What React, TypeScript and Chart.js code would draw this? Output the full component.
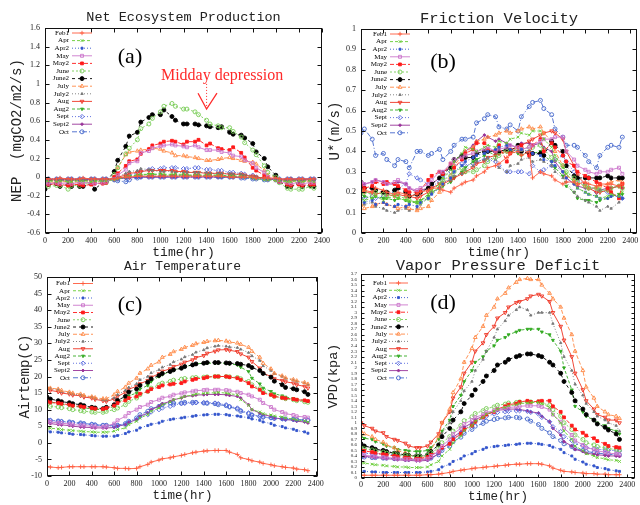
import React, { useEffect, useRef } from 'react';
import { Chart, registerables } from 'chart.js';
import { drawPoint } from 'chart.js/helpers';

Chart.register(...registerables);

// ---------------- data ----------------
const HOURS = [0, 30, 100, 130, 200, 230, 300, 330, 400, 430, 500, 530,
  600, 630, 700, 730, 800, 830, 900, 930, 1000, 1030, 1100, 1130,
  1200, 1230, 1300, 1330, 1400, 1430, 1500, 1530, 1600, 1630, 1700, 1730,
  1800, 1830, 1900, 1930, 2000, 2030, 2100, 2130, 2200, 2230, 2300, 2330];

const SERIES_NAMES = ['Feb1', 'Apr', 'Apr2', 'May', 'May2', 'June', 'June2', 'July', 'July2', 'Aug', 'Aug2', 'Sept', 'Sept2', 'Oct'];

const X_TICKS = [0, 200, 400, 600, 800, 1000, 1200, 1400, 1600, 1800, 2000, 2200, 2400];
const NEP_TICKS = [-0.6, -0.4, -0.2, 0, 0.2, 0.4, 0.6, 0.8, 1, 1.2, 1.4, 1.6];
const UST_TICKS = [0, 0.1, 0.2, 0.3, 0.4, 0.5, 0.6, 0.7, 0.8, 0.9, 1];
const TEMP_TICKS = [-10, -5, 0, 5, 10, 15, 20, 25, 30, 35, 40, 45, 50];
const VPD_TICKS = [0, 0.1, 0.2, 0.3, 0.4, 0.5, 0.6, 0.7, 0.8, 0.9, 1, 1.1, 1.2, 1.3, 1.4, 1.5, 1.6, 1.7, 1.8, 1.9,
  2, 2.1, 2.2, 2.3, 2.4, 2.5, 2.6, 2.7, 2.8, 2.9, 3, 3.1, 3.2, 3.3, 3.4, 3.5, 3.6, 3.7];

// (a) Net Ecosystem Production
const nepFeb1 = [-0.02,-0.02,-0.02,-0.01,-0.02,-0.02,-0.02,-0.01,-0.02,-0.02,-0.02,-0.02,
  -0.02,-0.01,0.0,0.0,0.01,0.01,0.01,0.01,0.01,0.01,0.01,0.01,
  0.01,0.01,0.01,0.01,0.01,0.01,0.01,0.01,0.0,0.0,0.0,0.0,
  0.0,-0.01,-0.01,-0.01,-0.01,-0.02,-0.02,-0.02,-0.02,-0.02,-0.02,-0.02];
const nepApr = [-0.05,-0.04,-0.05,-0.04,-0.05,-0.05,-0.04,-0.04,-0.05,-0.04,-0.04,-0.04,
  -0.03,-0.02,0.0,0.01,0.02,0.03,0.03,0.03,0.03,0.03,0.03,0.03,
  0.03,0.02,0.02,0.02,0.02,0.02,0.02,0.01,0.01,0.01,0.01,0.0,
  -0.01,-0.02,-0.03,-0.03,-0.04,-0.04,-0.05,-0.05,-0.04,-0.05,-0.04,-0.05];
const nepApr2 = [-0.03,-0.03,-0.02,-0.03,-0.03,-0.02,-0.03,-0.03,-0.02,-0.03,-0.03,-0.02,
  -0.02,-0.01,-0.01,0.0,0.0,0.0,0.01,0.01,0.01,0.01,0.01,0.01,
  0.01,0.01,0.01,0.01,0.01,0.01,0.0,0.0,0.0,0.0,0.0,0.0,
  -0.01,-0.01,-0.02,-0.02,-0.02,-0.03,-0.03,-0.02,-0.03,-0.03,-0.02,-0.03];
const nepMay = [-0.06,-0.07,-0.06,-0.07,-0.06,-0.07,-0.06,-0.06,-0.06,-0.07,-0.06,-0.05,
  -0.02,0.02,0.08,0.15,0.17,0.26,0.28,0.31,0.33,0.34,0.35,0.34,
  0.33,0.32,0.34,0.32,0.29,0.29,0.29,0.27,0.26,0.23,0.22,0.18,
  0.15,0.10,0.05,0.0,-0.03,-0.05,-0.06,-0.07,-0.06,-0.07,-0.06,-0.06];
const nepMay2 = [-0.07,-0.08,-0.07,-0.08,-0.09,-0.08,-0.08,-0.09,-0.08,-0.07,-0.07,-0.06,
  0.0,0.04,0.12,0.17,0.19,0.25,0.30,0.34,0.36,0.38,0.39,0.38,
  0.35,0.38,0.38,0.40,0.34,0.36,0.31,0.30,0.29,0.32,0.26,0.21,
  0.10,0.07,0.02,-0.01,-0.03,-0.05,-0.08,-0.09,-0.08,-0.09,-0.08,-0.08];
const nepJune = [-0.09,-0.10,-0.09,-0.09,-0.13,-0.09,-0.09,-0.07,-0.06,-0.05,-0.05,-0.06,
  0.03,0.10,0.25,0.31,0.40,0.52,0.57,0.63,0.70,0.76,0.79,0.76,
  0.73,0.73,0.70,0.67,0.61,0.57,0.55,0.53,0.53,0.49,0.43,0.37,
  0.29,0.24,0.12,0.05,0.0,-0.06,-0.12,-0.13,-0.13,-0.13,-0.10,-0.12];
const nepJune2 = [-0.13,-0.08,-0.07,-0.10,-0.08,-0.10,-0.10,-0.10,-0.07,-0.13,-0.06,-0.05,
  0.06,0.18,0.33,0.44,0.48,0.59,0.64,0.67,0.67,0.72,0.65,0.61,
  0.57,0.57,0.57,0.56,0.55,0.54,0.53,0.54,0.48,0.46,0.45,0.42,
  0.36,0.27,0.20,0.11,0.02,-0.05,-0.10,-0.10,-0.07,-0.10,-0.09,-0.10];
const nepJuly = [-0.05,-0.05,-0.06,-0.05,-0.05,-0.06,-0.05,-0.05,-0.06,-0.05,-0.05,-0.04,
  0.0,0.10,0.24,0.27,0.28,0.29,0.30,0.31,0.30,0.28,0.26,0.23,
  0.23,0.22,0.21,0.20,0.18,0.18,0.19,0.20,0.21,0.20,0.18,0.17,
  0.16,0.14,0.07,0.02,0.0,-0.03,-0.05,-0.05,-0.06,-0.05,-0.05,-0.05];
const nepJuly2 = [-0.04,-0.04,-0.04,-0.04,-0.04,-0.04,-0.04,-0.04,-0.04,-0.04,-0.04,-0.03,
  -0.02,0.0,0.04,0.06,0.07,0.09,0.08,0.07,0.06,0.06,0.06,0.05,
  0.05,0.05,0.05,0.05,0.05,0.04,0.04,0.04,0.04,0.03,0.03,0.02,
  0.01,0.0,-0.01,-0.02,-0.03,-0.04,-0.04,-0.04,-0.04,-0.04,-0.04,-0.04];
const nepAug = [-0.03,-0.03,-0.03,-0.03,-0.03,-0.03,-0.03,-0.03,-0.03,-0.03,-0.03,-0.03,
  -0.02,0.0,0.02,0.04,0.05,0.06,0.07,0.07,0.07,0.07,0.07,0.06,
  0.06,0.05,0.05,0.05,0.04,0.04,0.04,0.04,0.03,0.03,0.03,0.02,
  0.01,0.0,-0.01,-0.02,-0.02,-0.03,-0.03,-0.03,-0.03,-0.03,-0.03,-0.03];
const nepAug2 = [-0.03,-0.04,-0.03,-0.04,-0.03,-0.04,-0.03,-0.04,-0.03,-0.04,-0.03,-0.03,
  -0.02,-0.01,0.0,0.01,0.02,0.02,0.03,0.03,0.03,0.02,0.02,0.02,
  0.02,0.02,0.02,0.02,0.02,0.02,0.02,0.02,0.01,0.01,0.01,0.01,
  0.0,0.0,-0.01,-0.02,-0.03,-0.03,-0.04,-0.03,-0.04,-0.03,-0.04,-0.03];
const nepSept = [-0.03,-0.03,-0.03,-0.03,-0.03,-0.03,-0.03,-0.03,-0.03,-0.03,-0.03,-0.03,
  -0.03,-0.02,0.0,0.02,0.04,0.06,0.08,0.09,0.09,0.10,0.10,0.10,
  0.09,0.09,0.10,0.10,0.08,0.08,0.07,0.07,0.05,0.05,0.04,0.03,
  0.02,0.0,-0.01,-0.02,-0.03,-0.03,-0.03,-0.03,-0.03,-0.03,-0.03,-0.03];
const nepSept2 = [-0.02,-0.02,-0.02,-0.02,-0.02,-0.02,-0.02,-0.02,-0.02,-0.02,-0.02,-0.02,
  -0.02,-0.02,-0.01,-0.01,0.0,0.0,0.0,0.0,0.0,0.0,0.0,0.0,
  0.0,0.0,0.0,0.0,0.0,0.0,0.0,0.0,0.0,0.0,0.0,0.0,
  -0.01,-0.01,-0.01,-0.02,-0.02,-0.02,-0.02,-0.02,-0.02,-0.02,-0.02,-0.02];
const nepOct = [-0.02,-0.02,-0.02,-0.02,-0.02,-0.02,-0.02,-0.02,-0.02,-0.02,-0.02,-0.02,
  -0.03,-0.04,-0.05,-0.03,-0.01,0.0,0.0,0.0,0.0,0.0,0.0,0.0,
  0.0,0.0,0.0,0.0,0.0,0.0,0.0,0.0,0.0,0.0,-0.01,-0.01,
  -0.02,-0.02,-0.03,-0.03,-0.03,-0.02,-0.02,-0.02,-0.02,-0.02,-0.02,-0.02];

// (b) Friction velocity
const ustFeb1 = [0.20,0.21,0.20,0.22,0.21,0.20,0.19,0.20,0.19,0.18,0.19,0.20,
  0.21,0.22,0.22,0.21,0.20,0.22,0.24,0.25,0.26,0.28,0.30,0.32,
  0.33,0.34,0.37,0.39,0.40,0.38,0.40,0.27,0.30,0.29,0.28,0.26,
  0.24,0.25,0.25,0.24,0.25,0.24,0.23,0.24,0.24,0.24,0.23,0.24];
const ustApr = [0.17,0.16,0.17,0.18,0.16,0.17,0.18,0.17,0.16,0.16,0.15,0.16,
  0.19,0.21,0.24,0.27,0.31,0.35,0.39,0.42,0.41,0.40,0.42,0.43,
  0.42,0.45,0.44,0.46,0.47,0.49,0.48,0.50,0.50,0.46,0.42,0.38,
  0.32,0.29,0.25,0.22,0.20,0.19,0.18,0.17,0.18,0.19,0.18,0.20];
const ustApr2 = [0.16,0.15,0.16,0.14,0.15,0.14,0.13,0.14,0.13,0.14,0.13,0.15,
  0.17,0.19,0.22,0.24,0.27,0.30,0.33,0.35,0.37,0.38,0.39,0.40,
  0.41,0.42,0.43,0.41,0.40,0.41,0.40,0.39,0.38,0.36,0.35,0.33,
  0.30,0.27,0.24,0.22,0.20,0.19,0.18,0.17,0.17,0.18,0.18,0.17];
const ustMay = [0.25,0.24,0.25,0.26,0.25,0.24,0.25,0.26,0.24,0.22,0.21,0.22,
  0.24,0.26,0.30,0.30,0.34,0.36,0.37,0.38,0.39,0.40,0.41,0.42,
  0.40,0.41,0.42,0.43,0.42,0.41,0.42,0.43,0.45,0.46,0.46,0.47,
  0.47,0.40,0.36,0.33,0.31,0.30,0.29,0.30,0.30,0.31,0.32,0.29];
const ustMay2 = [0.24,0.22,0.23,0.25,0.24,0.25,0.24,0.23,0.21,0.20,0.20,0.21,
  0.26,0.28,0.30,0.29,0.34,0.32,0.36,0.39,0.41,0.44,0.44,0.41,
  0.40,0.43,0.35,0.39,0.42,0.43,0.38,0.43,0.46,0.40,0.44,0.42,
  0.38,0.35,0.33,0.30,0.28,0.27,0.25,0.24,0.22,0.20,0.17,0.24];
const ustJune = [0.21,0.20,0.19,0.20,0.19,0.18,0.19,0.18,0.17,0.16,0.15,0.15,
  0.17,0.20,0.22,0.26,0.28,0.30,0.32,0.30,0.30,0.31,0.33,0.35,
  0.37,0.38,0.40,0.40,0.41,0.41,0.42,0.42,0.43,0.41,0.37,0.36,
  0.33,0.30,0.27,0.25,0.23,0.22,0.22,0.21,0.21,0.22,0.23,0.22];
const ustJune2 = [0.25,0.22,0.22,0.21,0.20,0.20,0.21,0.22,0.20,0.18,0.19,0.20,
  0.22,0.24,0.27,0.29,0.32,0.36,0.38,0.37,0.37,0.39,0.40,0.40,
  0.40,0.40,0.41,0.40,0.43,0.40,0.39,0.39,0.39,0.38,0.45,0.43,
  0.40,0.33,0.28,0.27,0.27,0.27,0.27,0.27,0.28,0.27,0.27,0.27];
const ustJuly = [0.14,0.12,0.13,0.14,0.15,0.14,0.13,0.12,0.13,0.12,0.11,0.12,
  0.13,0.16,0.20,0.24,0.28,0.33,0.38,0.40,0.42,0.45,0.46,0.47,
  0.48,0.49,0.50,0.49,0.50,0.51,0.52,0.51,0.52,0.49,0.45,0.40,
  0.33,0.28,0.26,0.24,0.23,0.22,0.22,0.23,0.24,0.25,0.26,0.25];
const ustJuly2 = [0.15,0.14,0.15,0.13,0.12,0.11,0.10,0.11,0.12,0.11,0.12,0.14,
  0.17,0.20,0.22,0.25,0.26,0.28,0.29,0.31,0.33,0.35,0.36,0.37,
  0.36,0.32,0.30,0.33,0.34,0.36,0.37,0.35,0.36,0.35,0.33,0.30,
  0.27,0.25,0.20,0.18,0.16,0.15,0.13,0.11,0.13,0.12,0.15,0.17];
const ustAug = [0.21,0.20,0.20,0.19,0.20,0.19,0.18,0.19,0.18,0.18,0.17,0.18,
  0.20,0.22,0.24,0.24,0.26,0.27,0.29,0.30,0.32,0.34,0.35,0.37,
  0.38,0.39,0.40,0.41,0.42,0.43,0.45,0.46,0.48,0.49,0.50,0.49,
  0.46,0.40,0.33,0.28,0.24,0.22,0.20,0.20,0.21,0.22,0.23,0.22];
const ustAug2 = [0.19,0.18,0.17,0.18,0.17,0.17,0.16,0.17,0.16,0.15,0.15,0.16,
  0.18,0.20,0.22,0.23,0.25,0.27,0.30,0.32,0.35,0.36,0.38,0.40,
  0.38,0.39,0.41,0.40,0.39,0.38,0.40,0.39,0.40,0.38,0.35,0.32,
  0.28,0.23,0.20,0.17,0.16,0.16,0.15,0.16,0.17,0.18,0.19,0.19];
const ustSept = [0.17,0.17,0.18,0.17,0.18,0.19,0.20,0.22,0.24,0.29,0.27,0.26,
  0.24,0.23,0.25,0.27,0.30,0.33,0.34,0.33,0.34,0.35,0.36,0.36,
  0.35,0.33,0.30,0.30,0.30,0.30,0.29,0.33,0.30,0.31,0.33,0.36,
  0.38,0.35,0.30,0.26,0.24,0.22,0.20,0.21,0.20,0.19,0.18,0.17];
const ustSept2 = [0.23,0.24,0.25,0.26,0.25,0.24,0.24,0.25,0.24,0.22,0.20,0.21,
  0.22,0.24,0.27,0.30,0.32,0.35,0.38,0.40,0.43,0.45,0.48,0.47,
  0.45,0.46,0.44,0.43,0.42,0.44,0.44,0.43,0.44,0.42,0.40,0.35,
  0.30,0.27,0.24,0.23,0.22,0.22,0.22,0.21,0.22,0.22,0.23,0.22];
const ustOct = [0.49,0.51,0.46,0.38,0.39,0.36,0.33,0.36,0.35,0.32,0.40,0.40,
  0.38,0.39,0.41,0.36,0.40,0.43,0.46,0.46,0.47,0.54,0.56,0.58,
  0.57,0.52,0.51,0.53,0.50,0.57,0.62,0.64,0.65,0.61,0.58,0.51,
  0.47,0.43,0.43,0.42,0.38,0.35,0.32,0.38,0.42,0.43,0.42,0.47];

// (c) Air temperature
const tFeb1 = [-7.2,-7.3,-7.5,-7.4,-7.2,-7.2,-7.2,-7.2,-7.2,-7.2,-7.2,-7.3,
  -7.5,-7.7,-7.7,-7.8,-7.7,-7.2,-6.5,-5.8,-5.2,-4.8,-4.5,-4.2,
  -3.8,-3.5,-3.0,-2.8,-2.5,-2.4,-2.3,-2.3,-2.3,-2.8,-3.5,-4.5,
  -5.0,-5.4,-5.8,-6.2,-6.6,-6.9,-7.2,-7.4,-7.6,-7.9,-8.1,-8.4];
const tApr = [4.5,4.4,4.2,4.0,3.8,3.7,3.5,3.4,3.3,3.2,3.2,3.2,
  3.5,4.0,4.5,5.5,6.5,7.5,8.5,9.5,10.5,11.5,12.3,13.0,
  13.6,14.0,14.4,14.7,14.9,15.0,15.1,15.2,15.0,14.8,14.5,13.0,
  11.3,10.0,9.3,8.8,8.4,8.1,7.8,7.5,7.2,6.9,6.6,6.3];
const tApr2 = [3.5,3.3,3.2,3.0,2.8,2.6,2.5,2.4,2.2,2.1,2.0,2.0,
  2.0,2.2,2.8,3.3,3.8,4.5,5.2,5.6,6.0,6.5,7.0,7.2,
  7.5,7.7,8.0,8.2,8.4,8.5,8.6,8.6,8.5,8.3,8.1,7.9,
  7.6,7.2,6.8,6.3,5.8,5.3,4.9,4.5,4.1,3.7,3.3,2.9];
const tMay = [6.5,6.3,6.0,5.9,5.7,5.5,5.3,5.2,5.0,4.9,4.8,5.0,
  5.8,6.8,8.0,9.0,10.0,10.8,11.5,12.3,13.0,13.6,14.0,14.5,
  14.9,15.2,15.5,15.7,15.9,16.0,16.0,16.0,15.9,15.7,15.4,15.0,
  14.5,14.0,13.0,12.0,10.8,10.0,9.3,8.8,8.4,8.0,7.8,7.6];
const tMay2 = [12.5,12.2,12.0,11.8,11.5,11.2,11.0,10.8,10.5,10.3,10.2,10.5,
  11.2,12.0,12.8,13.5,14.0,14.8,15.5,16.2,16.8,17.3,17.6,17.8,
  18.0,18.5,19.0,19.3,19.5,19.8,20.0,20.0,20.0,19.8,19.5,19.0,
  18.0,17.0,16.0,15.0,14.5,14.0,13.6,13.4,13.2,13.0,12.8,12.6];
const tJune = [11.5,11.0,10.8,10.6,10.3,10.0,9.7,9.5,9.3,9.2,9.2,9.5,
  10.0,10.5,11.5,12.5,13.5,14.5,15.5,16.5,17.5,18.0,18.5,18.9,
  19.2,19.4,19.6,19.7,19.8,19.9,20.0,20.0,20.0,19.9,19.7,19.3,
  18.5,17.5,16.3,15.3,14.6,14.0,13.6,13.3,13.0,12.7,12.4,12.2];
const tJune2 = [13.8,13.2,12.7,12.4,12.1,11.8,11.5,11.2,10.7,10.5,10.3,10.7,
  11.5,12.8,14.0,15.3,16.2,17.3,18.3,19.3,20.3,20.9,21.5,22.0,
  22.5,23.0,23.5,23.8,24.0,24.2,24.2,24.2,24.1,24.0,23.9,23.7,
  23.3,22.7,21.8,20.9,19.8,18.6,17.5,16.7,16.3,16.0,15.4,14.6];
const tJuly = [16.8,16.5,16.2,15.8,15.3,15.0,14.7,14.3,13.9,13.6,13.3,13.3,
  14.5,15.5,16.8,18.0,19.5,21.0,22.3,23.4,24.4,25.8,26.7,27.5,
  28.2,28.8,29.4,29.9,30.3,30.6,30.8,30.9,30.7,30.4,30.1,29.7,
  28.8,27.6,25.8,24.0,22.3,21.0,20.2,19.6,19.1,18.7,18.2,17.7];
const tJuly2 = [16.8,16.4,16.0,15.5,15.0,14.7,14.4,14.1,13.8,13.4,13.0,12.9,
  13.5,14.5,15.8,16.7,17.8,19.0,20.0,21.1,22.0,22.8,23.6,24.4,
  25.2,25.9,26.6,27.3,28.0,28.6,29.1,29.3,29.1,28.9,28.7,28.2,
  27.2,26.2,24.8,23.2,21.8,20.8,20.0,19.4,18.9,18.5,18.0,17.5];
const tAug = [16.2,15.8,15.4,15.0,14.7,14.4,14.2,13.8,13.5,13.1,12.7,12.5,
  13.2,14.0,15.2,16.2,17.0,17.8,18.8,19.8,20.8,21.6,22.3,23.0,
  23.7,24.3,25.0,25.7,26.3,27.0,27.6,28.0,28.1,27.9,27.5,26.8,
  25.8,24.5,22.5,21.0,20.0,19.3,18.8,18.4,18.0,17.5,17.0,16.5];
const tAug2 = [12.5,12.2,11.9,11.6,11.3,11.0,10.8,10.5,10.3,10.1,10.0,10.3,
  11.0,12.2,13.2,14.2,15.0,16.2,17.3,18.5,20.0,20.6,21.5,22.0,
  22.5,23.0,23.5,23.8,24.0,24.0,24.0,24.0,24.0,23.8,23.5,22.8,
  21.5,19.5,17.8,16.5,15.5,14.8,14.2,13.8,13.4,13.1,12.8,12.5];
const tSept = [7.0,6.8,6.5,6.4,6.2,6.0,5.8,5.7,5.5,5.4,5.2,5.1,
  5.0,5.1,5.5,6.2,7.0,7.8,8.5,9.3,10.0,10.5,11.0,11.4,
  11.8,11.9,12.0,12.1,12.1,12.1,12.0,11.8,11.5,11.0,10.5,9.8,
  9.0,8.5,8.0,7.7,7.5,7.3,7.2,7.1,7.0,6.9,6.8,6.8];
const tSept2 = [6.0,5.8,5.5,5.4,5.2,5.0,4.8,4.7,4.6,4.5,4.5,4.5,
  4.6,5.0,5.5,6.2,7.0,8.0,9.0,10.0,11.0,11.8,12.5,13.0,
  13.5,14.0,14.2,14.4,14.5,14.6,14.6,14.6,14.5,14.3,14.0,13.5,
  11.5,10.0,9.0,8.5,8.0,7.5,7.2,7.0,6.8,6.5,6.3,6.0];
const tOct = [6.8,6.7,6.6,6.4,6.3,6.1,6.0,5.8,5.6,5.4,5.3,5.3,
  5.2,5.3,5.8,6.5,7.5,8.5,9.5,10.3,11.0,11.5,12.0,12.0,
  12.0,12.2,12.2,12.2,12.0,11.9,11.8,11.5,11.2,10.8,10.2,9.5,
  8.8,8.3,8.0,7.8,7.6,7.4,7.3,7.2,7.1,7.0,6.9,6.9];

// (d) Vapor pressure deficit
const vFeb1 = [0.05,0.05,0.05,0.05,0.05,0.05,0.05,0.05,0.05,0.05,0.05,0.05,
  0.06,0.06,0.07,0.08,0.10,0.12,0.14,0.15,0.17,0.18,0.19,0.20,
  0.21,0.22,0.23,0.24,0.25,0.25,0.26,0.26,0.26,0.25,0.22,0.18,
  0.14,0.12,0.11,0.10,0.09,0.08,0.08,0.07,0.07,0.06,0.06,0.06];
const vApr = [0.28,0.27,0.25,0.24,0.23,0.22,0.21,0.20,0.20,0.19,0.19,0.19,
  0.20,0.24,0.30,0.40,0.52,0.64,0.76,0.86,0.95,1.03,1.10,1.16,
  1.21,1.25,1.28,1.31,1.33,1.35,1.36,1.37,1.37,1.35,1.28,1.15,
  1.00,0.85,0.70,0.58,0.50,0.44,0.40,0.37,0.35,0.33,0.32,0.30];
const vApr2 = [0.12,0.12,0.11,0.11,0.10,0.10,0.10,0.10,0.10,0.10,0.10,0.10,
  0.11,0.12,0.15,0.20,0.25,0.30,0.35,0.40,0.44,0.48,0.52,0.55,
  0.57,0.58,0.59,0.60,0.61,0.62,0.63,0.63,0.62,0.61,0.59,0.56,
  0.52,0.46,0.40,0.34,0.29,0.25,0.22,0.19,0.17,0.15,0.13,0.12];
const vMay = [0.42,0.41,0.40,0.39,0.38,0.37,0.36,0.35,0.34,0.34,0.33,0.33,
  0.35,0.40,0.48,0.58,0.70,0.80,0.90,0.98,1.05,1.10,1.15,1.19,
  1.22,1.25,1.27,1.28,1.29,1.30,1.31,1.31,1.31,1.29,1.24,1.15,
  1.02,0.90,0.78,0.68,0.60,0.55,0.52,0.49,0.47,0.45,0.44,0.43];
const vMay2 = [0.50,0.49,0.47,0.45,0.43,0.42,0.40,0.39,0.37,0.36,0.35,0.35,
  0.38,0.42,0.48,0.55,0.62,0.70,0.80,0.88,0.95,1.02,1.10,1.15,
  1.20,1.25,1.30,1.33,1.35,1.38,1.40,1.38,1.39,1.40,1.40,1.30,
  1.20,1.10,0.95,0.88,0.82,0.77,0.72,0.67,0.62,0.58,0.56,0.55];
const vJune = [0.55,0.53,0.51,0.49,0.47,0.45,0.44,0.42,0.41,0.40,0.39,0.39,
  0.41,0.46,0.54,0.64,0.75,0.85,0.95,1.04,1.11,1.17,1.22,1.26,
  1.29,1.32,1.34,1.36,1.37,1.38,1.38,1.38,1.38,1.36,1.32,1.24,
  1.12,1.00,0.88,0.78,0.70,0.64,0.60,0.57,0.55,0.53,0.52,0.51];
const vJune2 = [0.62,0.58,0.55,0.52,0.50,0.48,0.45,0.44,0.42,0.41,0.40,0.40,
  0.42,0.48,0.60,0.75,0.90,1.05,1.20,1.35,1.50,1.60,1.75,1.85,
  1.95,2.05,2.10,2.15,2.20,2.22,2.25,2.25,2.22,2.20,2.10,2.05,
  1.90,1.75,1.55,1.40,1.25,1.15,1.05,0.98,0.92,0.87,0.80,0.70];
const vJuly = [0.85,0.80,0.75,0.70,0.65,0.60,0.55,0.50,0.45,0.42,0.38,0.38,
  0.38,0.50,0.75,1.00,1.25,1.55,1.80,2.10,2.35,2.55,2.75,2.95,
  3.10,3.25,3.35,3.45,3.55,3.60,3.62,3.60,3.60,3.50,3.35,3.25,
  3.10,2.90,2.60,2.30,1.95,1.65,1.45,1.30,1.20,1.15,1.12,1.08];
const vJuly2 = [0.60,0.58,0.55,0.52,0.50,0.48,0.46,0.44,0.42,0.41,0.40,0.40,
  0.42,0.48,0.60,0.80,1.00,1.20,1.40,1.58,1.75,1.95,2.15,2.30,
  2.55,2.70,2.85,2.95,3.05,3.10,3.05,2.95,3.00,3.00,3.00,2.80,
  2.45,2.20,1.95,1.70,1.50,1.35,1.20,1.12,1.05,1.00,0.95,0.85];
const vAug = [1.00,0.95,0.90,0.85,0.82,0.75,0.70,0.68,0.63,0.58,0.55,0.55,
  0.58,0.65,0.80,1.00,1.20,1.45,1.65,1.90,2.10,2.30,2.45,2.60,
  2.75,2.90,3.00,3.10,3.18,3.20,3.25,3.30,3.33,3.30,3.20,3.00,
  2.75,2.50,2.20,1.90,1.60,1.40,1.25,1.15,1.10,1.05,1.05,1.00];
const vAug2 = [0.75,0.72,0.70,0.66,0.62,0.58,0.55,0.52,0.50,0.49,0.48,0.48,
  0.50,0.55,0.70,0.85,1.05,1.30,1.50,1.75,1.95,2.10,2.20,2.30,
  2.40,2.50,2.55,2.60,2.65,2.68,2.70,2.70,2.70,2.65,2.60,2.50,
  2.30,2.00,1.60,1.30,1.20,1.12,1.05,1.00,0.95,0.90,0.85,0.80];
const vSept = [0.45,0.45,0.44,0.44,0.43,0.43,0.42,0.42,0.41,0.41,0.40,0.40,
  0.40,0.42,0.46,0.54,0.63,0.72,0.81,0.89,0.96,1.02,1.08,1.12,
  1.16,1.19,1.20,1.21,1.22,1.22,1.21,1.19,1.16,1.10,1.02,0.93,
  0.84,0.75,0.68,0.62,0.58,0.55,0.53,0.52,0.51,0.50,0.50,0.49];
const vSept2 = [0.40,0.39,0.38,0.37,0.36,0.35,0.34,0.33,0.32,0.32,0.31,0.31,
  0.32,0.36,0.44,0.54,0.64,0.74,0.84,0.92,1.00,1.06,1.12,1.16,
  1.20,1.23,1.24,1.25,1.25,1.24,1.22,1.20,1.18,1.12,1.02,0.90,
  0.78,0.66,0.58,0.52,0.48,0.45,0.43,0.42,0.41,0.40,0.40,0.39];
const vOct = [0.38,0.38,0.37,0.37,0.36,0.36,0.35,0.35,0.34,0.34,0.34,0.34,
  0.34,0.36,0.42,0.50,0.58,0.66,0.74,0.81,0.88,0.94,0.99,1.03,
  1.06,1.08,1.09,1.10,1.10,1.09,1.07,1.03,0.97,0.90,0.82,0.75,
  0.68,0.62,0.57,0.53,0.50,0.48,0.46,0.45,0.44,0.43,0.42,0.42];

const NEP = [nepFeb1, nepApr, nepApr2, nepMay, nepMay2, nepJune, nepJune2, nepJuly, nepJuly2, nepAug, nepAug2, nepSept, nepSept2, nepOct];
const UST = [ustFeb1, ustApr, ustApr2, ustMay, ustMay2, ustJune, ustJune2, ustJuly, ustJuly2, ustAug, ustAug2, ustSept, ustSept2, ustOct];
const TEMP = [tFeb1, tApr, tApr2, tMay, tMay2, tJune, tJune2, tJuly, tJuly2, tAug, tAug2, tSept, tSept2, tOct];
const VPD = [vFeb1, vApr, vApr2, vMay, vMay2, vJune, vJune2, vJuly, vJuly2, vAug, vAug2, vSept, vSept2, vOct];

// ---------------- styles ----------------
const MONO = '"Liberation Mono", "DejaVu Sans Mono", monospace';
const SERIF = '"Liberation Serif", "DejaVu Serif", serif';

const STYLES: any[] = [
  { color: '#ff5a3c', dash: [], ps: 'cross', r: 2.2, fill: false, rot: 0 },
  { color: '#66cc33', dash: [3, 2], ps: 'crossRot', r: 2.0, fill: false, rot: 0 },
  { color: '#3355cc', dash: [1, 2], ps: 'rect', r: 1.4, fill: true, rot: 0 },
  { color: '#cc77cc', dash: [], ps: 'rect', r: 2.1, fill: false, rot: 0 },
  { color: '#ff1a1a', dash: [4, 2], ps: 'rect', r: 2.0, fill: true, rot: 0 },
  { color: '#77cc55', dash: [2, 2], ps: 'circle', r: 2.0, fill: false, rot: 0 },
  { color: '#000000', dash: [3, 3], ps: 'circle', r: 2.0, fill: true, rot: 0 },
  { color: '#ff8844', dash: [4, 2], ps: 'triangle', r: 2.2, fill: false, rot: 0 },
  { color: '#777777', dash: [1, 2], ps: 'triangle', r: 1.4, fill: true, rot: 0 },
  { color: '#ee3322', dash: [], ps: 'triangle', r: 2.2, fill: false, rot: 180 },
  { color: '#33aa22', dash: [3, 2], ps: 'triangle', r: 1.7, fill: true, rot: 180 },
  { color: '#5566dd', dash: [1, 2], ps: 'rectRot', r: 2.2, fill: false, rot: 0 },
  { color: '#993399', dash: [], ps: 'rectRot', r: 1.5, fill: true, rot: 0 },
  { color: '#4466cc', dash: [5, 2, 1, 2], ps: 'circle', r: 2.0, fill: false, rot: 0 },
];

const PANELS: any[] = [
  {
    key: 'a', values: NEP, title: 'Net Ecosystem Production', titleSize: 13.5, titleY: 17,
    yTitle: 'NEP  (mgCO2/m2/s)', yTitleSize: 14, yTitlePad: 8.6, xTitleSize: 13, xTitlePad: 2.2,
    plot: { l: 45, r: 322, t: 28, b: 233 }, yW: 45, xH: 30,
    ymin: -0.6, ymax: 1.6, yTicks: NEP_TICKS, xmax: 2400, yTickPad: 5, xTickPad: 3, yTickFont: 8, tickLen: 4,
    legend: { right: 69, x0: 72, x1: 92, top: 33, step: 7.6 }, label: { text: '(a)', x: 130, y: 57 }, note: true,
  },
  {
    key: 'b', values: UST, title: 'Friction Velocity', titleSize: 15.5, titleY: 19,
    yTitle: 'U*(m/s)', yTitleSize: 14, yTitlePad: 6.6, xTitleSize: 13, xTitlePad: 2.2,
    plot: { l: 361, r: 637, t: 29, b: 233 }, yW: 41, xH: 30,
    ymin: 0, ymax: 1, yTicks: UST_TICKS, xmax: 2460, yTickPad: 5, xTickPad: 3, yTickFont: 8, tickLen: 4,
    legend: { right: 387, x0: 390, x1: 410, top: 34, step: 7.6 }, label: { text: '(b)', x: 443, y: 62 },
  },
  {
    key: 'c', values: TEMP, title: 'Air Temperature', titleSize: 13, titleY: 267,
    yTitle: 'Airtemp(C)', yTitleSize: 14, yTitlePad: 16.6, xTitleSize: 12.5, xTitlePad: 0.5,
    plot: { l: 47, r: 318, t: 277, b: 476 }, yW: 47, xH: 28,
    ymin: -10, ymax: 50, yTicks: TEMP_TICKS, xmax: 2420, yTickPad: 5, xTickPad: 3, yTickFont: 8, tickLen: 4,
    legend: { right: 70, x0: 73, x1: 93, top: 283.5, step: 7.25 }, label: { text: '(c)', x: 130, y: 305 },
  },
  {
    key: 'd', values: VPD, title: 'Vapor Pressure Deficit', titleSize: 15.5, titleY: 266,
    yTitle: 'VPD(kpa)', yTitleSize: 13.5, yTitlePad: 4.9, xTitleSize: 12.5, xTitlePad: 0,
    plot: { l: 361, r: 635, t: 274, b: 478 }, yW: 41, xH: 26,
    ymin: 0, ymax: 3.7, yTicks: VPD_TICKS, xmax: 2470, yTickPad: 4, xTickPad: 2, yTickFont: 5, tickLen: 3,
    legend: { right: 387, x0: 389, x1: 408, top: 283, step: 7.3 }, label: { text: '(d)', x: 443, y: 303 },
  },
];

const fmt = (v: number) => String(Math.round(v * 10) / 10);

function buildDatasets(values: number[][]) {
  return SERIES_NAMES.map((name, i) => {
    const st = STYLES[i];
    const bg = st.fill ? st.color : 'rgba(0,0,0,0)';
    return {
      label: name,
      data: HOURS.map((h, j) => ({ x: h, y: values[i][j] })),
      borderColor: st.color,
      backgroundColor: bg,
      borderWidth: 0.9,
      borderDash: st.dash,
      pointStyle: st.ps,
      pointRadius: st.r,
      pointHoverRadius: st.r,
      pointRotation: st.rot,
      pointBorderWidth: 0.9,
      pointBackgroundColor: bg,
      pointBorderColor: st.color,
      tension: 0,
      fill: false,
    };
  });
}

function decoPlugin(cfg: any) {
  return {
    id: 'deco_' + cfg.key,
    afterDraw(chart: any) {
      const { ctx, chartArea: a } = chart;
      const xs = chart.scales.x;
      const ys = chart.scales.y;
      ctx.save();
      ctx.setLineDash([]);
      ctx.strokeStyle = '#111';
      ctx.lineWidth = 1;
      const L = Math.round(a.left) + 0.5, R = Math.round(a.right) - 0.5;
      const T = Math.round(a.top) + 0.5, B = Math.round(a.bottom) - 0.5;
      ctx.strokeRect(L, T, R - L, B - T);
      ctx.beginPath();
      xs.ticks.forEach((t: any) => {
        const p = Math.round(xs.getPixelForValue(t.value)) + 0.5;
        ctx.moveTo(p, B); ctx.lineTo(p, B - cfg.tickLen);
        ctx.moveTo(p, T); ctx.lineTo(p, T + cfg.tickLen);
      });
      ys.ticks.forEach((t: any) => {
        const p = Math.round(ys.getPixelForValue(t.value)) + 0.5;
        ctx.moveTo(L, p); ctx.lineTo(L + cfg.tickLen, p);
        ctx.moveTo(R, p); ctx.lineTo(R - cfg.tickLen, p);
      });
      ctx.stroke();

      // panel title
      ctx.fillStyle = '#222';
      ctx.font = `${cfg.titleSize}px ${MONO}`;
      ctx.textAlign = 'center';
      ctx.textBaseline = 'middle';
      ctx.fillText(cfg.title, (a.left + a.right) / 2, cfg.titleY);

      // panel label
      ctx.fillStyle = '#000';
      ctx.font = `22px ${SERIF}`;
      ctx.fillText(cfg.label.text, cfg.label.x, cfg.label.y);

      // legend (gnuplot style, inside plot)
      const lg = cfg.legend;
      chart.data.datasets.forEach((ds: any, i: number) => {
        const st = STYLES[i];
        const y = lg.top + i * lg.step;
        ctx.fillStyle = '#000';
        ctx.font = `7px ${SERIF}`;
        ctx.textAlign = 'right';
        ctx.textBaseline = 'middle';
        ctx.fillText(ds.label, lg.right, y);
        ctx.strokeStyle = st.color;
        ctx.lineWidth = 0.9;
        ctx.setLineDash(st.dash);
        ctx.beginPath();
        ctx.moveTo(lg.x0, y);
        ctx.lineTo(lg.x1, y);
        ctx.stroke();
        ctx.setLineDash([]);
        ctx.fillStyle = st.fill ? st.color : 'rgba(0,0,0,0)';
        drawPoint(ctx, { pointStyle: st.ps, radius: st.r, rotation: st.rot, borderWidth: 0.9 }, (lg.x0 + lg.x1) / 2, y);
      });

      if (cfg.note) {
        const red = '#ff2a2a';
        ctx.fillStyle = red;
        ctx.font = `16px ${SERIF}`;
        ctx.textAlign = 'center';
        ctx.textBaseline = 'middle';
        ctx.fillText('Midday depression', xs.getPixelForValue(1534), ys.getPixelForValue(1.085));
        ctx.strokeStyle = red;
        ctx.lineWidth = 1;
        ctx.setLineDash([1, 2]);
        ctx.beginPath();
        ctx.moveTo(xs.getPixelForValue(1400), ys.getPixelForValue(1.0));
        ctx.lineTo(xs.getPixelForValue(1400), ys.getPixelForValue(0.74));
        ctx.stroke();
        ctx.setLineDash([]);
        ctx.lineWidth = 1.3;
        ctx.beginPath();
        ctx.moveTo(xs.getPixelForValue(1326), ys.getPixelForValue(0.9));
        ctx.lineTo(xs.getPixelForValue(1400), ys.getPixelForValue(0.73));
        ctx.lineTo(xs.getPixelForValue(1490), ys.getPixelForValue(0.9));
        ctx.stroke();
      }
      ctx.restore();
    },
  };
}

function makeConfig(cfg: any): any {
  const p = cfg.plot;
  return {
    type: 'line',
    data: { datasets: buildDatasets(cfg.values) },
    options: {
      responsive: false,
      animation: false,
      events: [],
      layout: { padding: { left: p.l - cfg.yW, right: 640 - p.r, top: p.t, bottom: 505 - p.b - cfg.xH } },
      plugins: { legend: { display: false }, title: { display: false }, tooltip: { enabled: false } },
      scales: {
        x: {
          type: 'linear', min: 0, max: cfg.xmax,
          afterBuildTicks: (s: any) => { s.ticks = X_TICKS.map((v) => ({ value: v })); },
          afterFit: (s: any) => { s.height = cfg.xH; s.paddingLeft = 0; s.paddingRight = 0; },
          grid: { display: false, drawTicks: false, tickLength: 0 },
          border: { display: false },
          ticks: { font: { family: SERIF, size: 8 }, color: '#222', padding: cfg.xTickPad, maxRotation: 0, autoSkip: false, callback: (v: any) => String(v) },
          title: { display: true, text: 'time(hr)', color: '#222', font: { family: MONO, size: cfg.xTitleSize }, padding: { top: 0, bottom: cfg.xTitlePad } },
        },
        y: {
          type: 'linear', min: cfg.ymin, max: cfg.ymax,
          afterBuildTicks: (s: any) => { s.ticks = cfg.yTicks.map((v: number) => ({ value: v })); },
          afterFit: (s: any) => { s.width = cfg.yW; s.paddingTop = 0; s.paddingBottom = 0; },
          grid: { display: false, drawTicks: false, tickLength: 0 },
          border: { display: false },
          ticks: { font: { family: SERIF, size: cfg.yTickFont }, color: '#222', padding: cfg.yTickPad, autoSkip: false, callback: (v: any) => fmt(v) },
          title: { display: true, text: cfg.yTitle, color: '#222', font: { family: MONO, size: cfg.yTitleSize }, padding: { top: cfg.yTitlePad, bottom: 0 } },
        },
      },
    },
    plugins: [decoPlugin(cfg)],
  };
}

function Panel({ cfg }: { cfg: any }) {
  const ref = useRef<HTMLCanvasElement>(null);
  useEffect(() => {
    const chart = new Chart(ref.current as HTMLCanvasElement, makeConfig(cfg));
    return () => chart.destroy();
  }, [cfg]);
  return (
    <canvas ref={ref} width={640} height={505}
      style={{ position: 'absolute', left: 0, top: 0, width: 640, height: 505 }} />
  );
}

export default function App() {
  return (
    <div style={{ position: 'absolute', left: 0, top: 0, width: 640, height: 505, background: '#fff', overflow: 'hidden' }}>
      {PANELS.map((p) => <Panel key={p.key} cfg={p} />)}
    </div>
  );
}
